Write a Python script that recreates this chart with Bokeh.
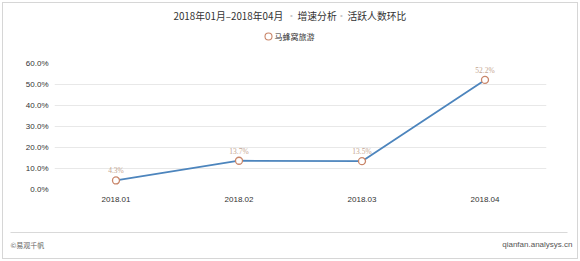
from bokeh.plotting import figure
from bokeh.layouts import column
from bokeh.models import (ColumnDataSource, Range1d,
                          PrintfTickFormatter, FixedTicker, LabelSet)
from bokeh.core.properties import value
from bokeh.embed import file_html
from bokeh.resources import INLINE

categories = ["2018.01", "2018.02", "2018.03", "2018.04"]
values = [4.3, 13.7, 13.5, 52.2]
value_labels = ["4.3%", "13.7%", "13.5%", "52.2%"]
y_ticks = [0, 10, 20, 30, 40, 50, 60]
series_name = "马蜂窝旅游"
title_parts = ["2018年01月–2018年04月", "·", "增速分析", "·", "活跃人数环比"]
footer_left = "©易观千帆"
footer_right = "qianfan.analysys.cn"

CJK = "Noto Sans CJK SC"
LAT = "Liberation Sans"
W = 574

LINE_C = "#4d85bd"
MARK_C = "#c9866a"


def blank(height):
    f = figure(width=W, height=height, x_range=Range1d(0, W), y_range=Range1d(height, 0),
               x_axis_location=None, y_axis_location=None, frame_align=False,
               output_backend="svg", toolbar_location=None, min_border=0)
    f.grid.grid_line_color = None
    f.outline_line_color = None
    f.background_fill_color = "white"
    f.border_fill_color = "white"
    return f


# ---- header: title + legend
head = blank(50)
tstyle = dict(text_baseline="middle", text_font=value(CJK), text_font_size="9.8px")
head.text(x=[170], y=[12], text=[title_parts[0]], text_align="left", text_color="#333333", **tstyle)
head.text(x=[288], y=[12], text=[title_parts[1]], text_align="center", text_color="#c8c8c8", **tstyle)
head.text(x=[294], y=[12], text=[title_parts[2]], text_align="left", text_color="#333333", **tstyle)
head.text(x=[338], y=[12], text=[title_parts[3]], text_align="center", text_color="#c8c8c8", **tstyle)
head.text(x=[344], y=[12], text=[title_parts[4]], text_align="left", text_color="#333333", **tstyle)

head.scatter(x=[265], y=[33], size=7, fill_color="white", line_color=MARK_C, line_width=1.1)
head.text(x=[271], y=[33], text=[series_name], text_align="left", text_baseline="middle",
          text_font=value(CJK), text_font_size="8px", text_color="#333333")

# ---- main chart
src = ColumnDataSource(dict(x=categories, y=values, lab=value_labels))
p = figure(width=W, height=165, x_range=categories, y_range=(0, 60), frame_align=False,
           output_backend="svg", toolbar_location=None,
           min_border_left=51, min_border_right=31, min_border_top=10, min_border_bottom=29)
p.outline_line_color = None
p.background_fill_color = "white"
p.border_fill_color = "white"

p.line("x", "y", source=src, line_color=LINE_C, line_width=1.8)
p.scatter("x", "y", source=src, size=7, fill_color="white", line_color=MARK_C, line_width=1.3)
p.add_layout(LabelSet(x="x", y="y", text="lab", source=src, y_offset=5,
                      text_align="center", text_baseline="bottom",
                      text_font=LAT, text_font_size="7.5px", text_color="#c4a691"))

p.yaxis.ticker = FixedTicker(ticks=y_ticks)
p.yaxis.formatter = PrintfTickFormatter(format="%.1f%%")
for ax in (p.xaxis, p.yaxis):
    ax.axis_line_color = None
    ax.major_tick_line_color = None
    ax.minor_tick_line_color = None
    ax.major_label_text_font = LAT
    ax.major_label_text_font_size = "8px"
    ax.major_label_text_color = "#333333"
p.xaxis.major_label_standoff = 1
p.yaxis.major_label_standoff = 0
p.xgrid.grid_line_color = None
p.ygrid.grid_line_color = "#e8e8e8"
p.ygrid.grid_line_width = 1

# ---- footer
foot = blank(40)
foot.segment(x0=[7], y0=[14], x1=[564], y1=[14], line_color="#d9d9d9", line_width=1)
foot.text(x=[7], y=[26], text=[footer_left], text_align="left", text_baseline="middle",
          text_font=value(CJK), text_font_size="7px", text_color="#666666")
foot.text(x=[569], y=[26], text=[footer_right], text_align="right", text_baseline="middle",
          text_font=value(LAT), text_font_size="8px", text_color="#555555")

layout = column(head, p, foot, spacing=0,
                styles={"border": "1px solid #d6d6d6", "margin": "2px"})

open("out.html", "w").write(file_html(layout, INLINE))
